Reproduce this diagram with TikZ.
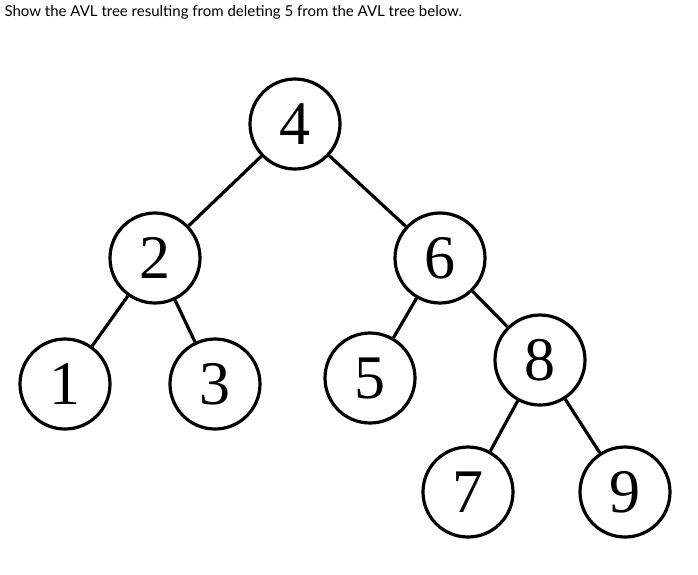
\documentclass[tikz,border=0pt]{standalone}
\usepackage{fontspec}
\setmainfont{Liberation Serif}
\newfontfamily\titlefont{Lato}
\begin{document}
\begin{tikzpicture}[x=1pt,y=-1pt,
  nd/.style={circle,draw,line width=3.2pt,minimum size=90pt,inner sep=0pt,font=\fontsize{62}{62}\selectfont},
  ed/.style={line width=3.2pt}]
\useasboundingbox (0,0) rectangle (698,574);
\node[anchor=west,font=\titlefont\fontsize{15}{15}\selectfont] (t) at (1,12) {Show the AVL tree resulting from deleting 5 from the AVL tree below.};
\node[nd] (n4) at (295,124) {4};
\node[nd] (n2) at (155,258) {2};
\node[nd] (n6) at (440,258) {6};
\node[nd] (n1) at (65,384) {1};
\node[nd] (n3) at (215,384) {3};
\node[nd] (n5) at (370,378) {5};
\node[nd] (n8) at (540,360) {8};
\node[nd] (n7) at (468,492) {7};
\node[nd] (n9) at (625,492) {9};
\draw[ed] (n4)--(n2); \draw[ed] (n4)--(n6);
\draw[ed] (n2)--(n1); \draw[ed] (n2)--(n3);
\draw[ed] (n6)--(n5); \draw[ed] (n6)--(n8);
\draw[ed] (n8)--(n7); \draw[ed] (n8)--(n9);
\end{tikzpicture}
\end{document}
